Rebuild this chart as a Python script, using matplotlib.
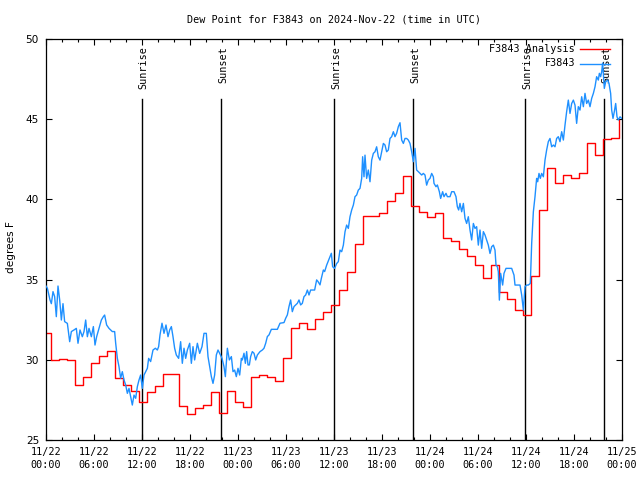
import numpy as np
import matplotlib
matplotlib.use("Agg")
import matplotlib.pyplot as plt
from matplotlib.lines import Line2D
from matplotlib.transforms import blended_transform_factory

# ---------------- data (hours since 2024-11-22 00:00 UTC) ----------------
title = "Dew Point for F3843 on 2024-Nov-22 (time in UTC)"
xtick_labels = ["11/22\n00:00", "11/22\n06:00", "11/22\n12:00", "11/22\n18:00",
                "11/23\n00:00", "11/23\n06:00", "11/23\n12:00", "11/23\n18:00",
                "11/24\n00:00", "11/24\n06:00", "11/24\n12:00", "11/24\n18:00",
                "11/25\n00:00"]
ytick_values = [25, 30, 35, 40, 45, 50]

sun_times = [12.0, 21.92, 36.04, 45.92, 59.92, 69.79]
sun_labels = ["Sunrise", "Sunset", "Sunrise", "Sunset", "Sunrise", "Sunset"]

# hourly analysis (step changes at ~k+0.65 h)
analysis_start = [0.0] + [k + 0.65 for k in range(0, 72)]
analysis_vals = [31.7, 30.0, 30.05, 30.0, 28.43, 28.9, 29.8, 30.25, 30.55, 28.85,
                 28.4, 28.07, 27.35, 27.97, 28.37, 29.1, 29.1, 27.12, 26.6, 27.0,
                 27.16, 27.97, 26.67, 28.05, 27.35, 27.04, 28.9, 29.03, 28.9, 28.66,
                 30.13, 31.98, 32.27, 31.9, 32.54, 32.98, 33.4, 34.35, 35.45, 37.2,
                 38.96, 38.96, 39.17, 39.92, 40.38, 41.48, 39.6, 39.23, 38.92, 39.13,
                 37.57, 37.4, 36.91, 36.47, 35.89, 35.12, 35.89, 34.2, 33.81, 33.09,
                 32.8, 35.2, 39.34, 41.94, 41.0, 41.5, 41.35, 41.63, 43.5, 42.77,
                 43.77, 43.85, 44.95]

obs_hours = [
    0.0, 0.17, 0.5, 0.67, 0.875, 1.08, 1.29, 1.5, 1.71, 1.92, 2.125, 2.33, 2.67, 2.96,
    3.17, 3.5, 3.79, 4.0, 4.25, 4.54, 4.75, 4.96, 5.17, 5.375, 5.67, 5.92, 6.125, 6.33,
    6.625, 6.92, 7.17, 7.33, 7.58, 7.875, 8.29, 8.58, 8.71, 8.92, 9.125, 9.33, 9.54,
    9.75, 9.96, 10.17, 10.375, 10.58, 10.79, 11.0, 11.21, 11.42, 11.625, 11.83, 12.04,
    12.25, 12.46, 12.67,
    12.83, 13.08, 13.375, 13.67, 13.92, 14.08, 14.25, 14.5, 14.75, 15.0, 15.25, 15.46,
    15.67, 15.875, 16.08, 16.29, 16.58, 16.83, 17.04, 17.25, 17.46, 17.67, 17.96, 18.17,
    18.375, 18.58, 18.92, 19.21, 19.5, 19.75, 20.04, 20.25, 20.46, 20.67, 20.875, 21.08,
    21.29, 21.5, 21.71, 22.0, 22.25, 22.42, 22.67, 22.92, 23.17, 23.375, 23.58, 23.79,
    24.0, 24.21, 24.42,
    24.54, 24.75, 24.92, 25.08, 25.25, 25.42, 25.58, 25.79, 26.0, 26.21, 26.42, 26.75,
    27.04, 27.25, 27.46, 27.67, 27.875, 28.17, 28.5, 28.92, 29.25, 29.75, 29.96, 30.17,
    30.375, 30.58, 30.79, 31.0, 31.21, 31.42, 31.625, 31.83, 32.04, 32.25, 32.46, 32.67,
    32.875, 33.08, 33.29, 33.58, 33.83, 34.0, 34.25, 34.42, 34.67, 34.83, 35.08, 35.25,
    35.5, 35.67,
    35.83, 36.08, 36.33, 36.54, 36.75, 36.96, 37.17, 37.375, 37.58, 37.79, 38.0, 38.21,
    38.42, 38.625, 38.83, 39.04, 39.25, 39.46, 39.58, 39.75, 39.875, 40.08, 40.29, 40.5,
    40.71, 40.92, 41.125, 41.33, 41.54, 41.75, 41.96, 42.17, 42.375, 42.58, 42.79, 43.0,
    43.21, 43.42, 43.625, 43.83, 44.04, 44.25, 44.46, 44.67, 44.875, 45.08, 45.29, 45.5,
    45.71, 45.92, 46.125, 46.33, 46.54, 46.75, 46.96, 47.17, 47.375, 47.58, 47.79, 48.0,
    48.21, 48.42,
    48.5, 48.75, 48.92, 49.17, 49.33, 49.58, 49.75, 50.0, 50.17, 50.5, 50.71, 51.0,
    51.25, 51.42, 51.58, 51.75, 51.96, 52.17, 52.375, 52.58, 52.79, 53.0, 53.21, 53.42,
    53.625, 53.83, 54.04, 54.25, 54.46, 54.67, 54.875, 55.08, 55.29, 55.5, 55.71, 55.92,
    56.125, 56.25, 56.42, 56.54, 56.67, 56.83, 57.08, 57.25, 57.5, 57.79, 58.21, 58.5,
    58.625, 58.92, 59.25, 59.46, 59.67, 59.875, 60.08,
    60.29, 60.54, 60.71, 60.92, 61.125, 61.33, 61.46, 61.625, 61.79, 61.96, 62.17,
    62.375, 62.58, 62.79, 63.0, 63.21, 63.42, 63.625, 63.83, 64.04, 64.25, 64.46, 64.67,
    64.875, 65.08, 65.29, 65.5, 65.71, 65.92, 66.125, 66.33, 66.54, 66.75, 66.96, 67.17,
    67.375, 67.58, 67.79, 68.0, 68.21, 68.42, 68.625, 68.83, 69.04, 69.17, 69.33, 69.46,
    69.58, 69.79, 69.96, 70.21, 70.375, 70.58, 70.71, 70.875, 71.04, 71.21, 71.375,
    71.54, 71.75, 71.96]

obs_vals = [
    34.6, 34.46, 33.73, 33.5, 34.25, 33.94, 32.69, 34.6, 33.73, 32.48, 33.5, 32.38, 32.27,
    31.13, 31.76, 31.86, 31.96, 31.03, 31.86, 31.44, 31.76, 32.48, 31.44, 31.96, 31.44,
    32.07, 30.92, 31.44, 31.96, 32.48, 32.69, 32.79, 32.17, 31.96, 31.76, 31.76, 31.03,
    30.09, 29.57, 28.85, 29.26, 28.74, 28.43, 27.91, 28.22, 27.7, 27.18, 27.8, 27.6,
    28.33, 28.74, 29.05, 28.22, 29.05, 29.26, 29.47,
    30.09, 29.89, 30.61, 30.72, 30.61, 30.82, 31.55, 32.28, 31.65, 32.17, 31.44, 31.86,
    32.07, 31.44, 30.72, 30.3, 30.09, 31.13, 29.78, 30.72, 30.09, 30.61, 31.03, 29.78,
    30.82, 29.99, 31.03, 30.4, 30.82, 31.65, 31.65, 30.2, 29.57, 28.95, 28.53, 29.05,
    30.3, 30.61, 30.4, 30.09, 29.57, 28.95, 30.72, 29.99, 30.2, 29.26, 29.36, 28.95,
    29.47, 29.05, 30.09,
    29.99, 30.41, 29.78, 30.51, 29.68, 29.68, 30.2, 30.51, 30.41, 29.99, 30.3, 30.51,
    30.61, 30.72, 31.03, 31.45, 31.55, 31.9, 31.9, 31.9, 32.28, 32.32, 32.59, 32.8,
    33.32, 33.73, 33.0, 33.32, 33.42, 33.52, 33.73, 33.42, 33.52, 33.94, 34.04, 34.35,
    34.04, 34.35, 34.35, 34.35, 34.98, 34.88, 34.67, 35.08, 35.6, 35.5, 35.9, 36.12,
    36.43, 36.64,
    35.8, 35.7, 36.0, 36.12, 36.84, 36.74, 37.15, 37.98, 38.4, 38.19, 38.92, 39.34,
    39.65, 40.17, 40.27, 40.58, 40.69, 41.31, 42.66, 41.41, 42.76, 41.31, 41.83, 41.1,
    42.45, 42.87, 42.97, 43.28, 42.66, 42.45, 42.97, 43.49, 43.39, 42.97, 43.08, 43.8,
    43.91, 44.22, 43.91, 44.12, 44.53, 44.78, 43.7, 43.49, 43.8, 43.8, 43.7, 43.49,
    42.97, 42.35, 43.18, 41.83, 41.73, 41.62, 41.52, 41.62, 41.52, 40.89, 41.21, 41.31,
    41.62, 41.41,
    41.0, 40.79, 40.9, 40.48, 40.06, 40.48, 40.17, 40.38, 40.17, 40.17, 40.48, 40.48,
    40.17, 39.54, 39.34, 39.75, 39.23, 39.75, 38.82, 38.5, 38.92, 38.09, 37.47, 38.5,
    38.19, 38.3, 37.15, 38.09, 36.95, 37.99, 37.78, 37.47, 37.15, 36.63, 37.05, 37.15,
    36.84, 35.91, 35.8, 35.49, 33.72, 35.39, 34.66, 35.39, 35.7, 35.7, 35.7, 35.28,
    34.66, 34.66, 34.66, 34.04, 33.1, 34.56, 34.66,
    34.66, 34.76, 37.26, 39.23, 40.17, 41.31, 41.1, 41.62, 41.31, 41.62, 41.41,
    42.45, 43.08, 43.6, 43.8, 43.28, 43.39, 43.28, 43.8, 43.91, 43.6, 44.22, 43.7,
    44.63, 45.47, 46.19, 45.36, 45.98, 46.19, 45.88, 44.74, 45.78, 45.57, 46.4, 45.78,
    46.61, 45.98, 46.19, 45.78, 46.3, 46.61, 47.02, 47.65, 47.44, 47.86, 47.65, 47.96,
    48.5, 46.92, 47.34, 47.44, 47.23, 46.61, 45.57, 45.05, 45.47, 45.98, 45.15,
    44.95, 45.15, 45.05]

legend_labels = ["F3843 Analysis", "F3843"]
red = "#ff0000"
blue = "#1e90ff"

# ---------------- figure ----------------
mono = "DejaVu Sans Mono"
fig = plt.figure(figsize=(6.4, 4.8), dpi=100)
W, H = 640.0, 480.0
ax = fig.add_axes([46 / W, 40 / H, 576 / W, 401 / H])
ax.set_xlim(0, 72)
ax.set_ylim(25, 50)

# sunrise / sunset markers
trans = blended_transform_factory(ax.transData, ax.transAxes)
for t, lab in zip(sun_times, sun_labels):
    ax.plot([t, t], [0, 0.850], color="black", lw=1.0, transform=trans, zorder=1)
    ax.annotate(lab, xy=(t, 1.0), xycoords=trans, xytext=(1.2, -5.0),
                textcoords="offset points", rotation=90, ha="center", va="top",
                fontsize=7.3, family=mono, zorder=1)

ax.plot(analysis_start, analysis_vals, drawstyle="steps-post", color=red, lw=1.0, zorder=2)
ax.plot(obs_hours, obs_vals, color=blue, lw=1.0, zorder=3)

# ticks
ax.set_xticks(np.arange(0, 73, 6))
ax.set_xticklabels(xtick_labels, family=mono, fontsize=7.3, linespacing=1.35)
ax.set_xticks(np.arange(0, 73, 2), minor=True)
ax.set_yticks(ytick_values)
ax.set_yticklabels([str(v) for v in ytick_values], fontsize=7.6)
ax.tick_params(axis="both", which="both", direction="in", top=True, right=True, width=0.8)
ax.tick_params(axis="x", which="major", length=4, pad=5)
ax.tick_params(axis="x", which="minor", length=2.2)
ax.tick_params(axis="y", which="major", length=4, pad=5)
for s in ax.spines.values():
    s.set_linewidth(0.9)

# title & labels
fig.text(334 / W, 1 - 19 / H, title, ha="center", va="center", family=mono, fontsize=7.3)
fig.text(11 / W, 1 - 247 / H, "degrees F", rotation=90, ha="center", va="center", fontsize=7.6)

# legend (gnuplot style: text right-justified, sample line to the right)
for i, (lab, col) in enumerate(zip(legend_labels, [red, blue])):
    yy = 1 - (49 + 14.5 * i) / H
    fig.text(575 / W, yy, lab, ha="right", va="center", family=mono, fontsize=7.3, zorder=5)
    fig.add_artist(Line2D([580 / W, 610 / W], [yy, yy], color=col, lw=1.0, zorder=5))

fig.savefig("out.png", dpi=100)
